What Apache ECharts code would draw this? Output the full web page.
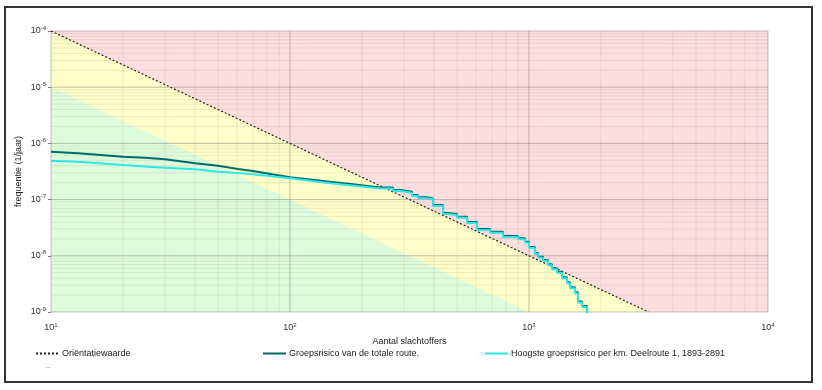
<!DOCTYPE html>
<html>
<head>
<meta charset="utf-8">
<script src="https://cdn.jsdelivr.net/npm/echarts@6/dist/echarts.min.js"></script>
<style>
html,body{margin:0;padding:0;background:#fff;}
#chart{width:822px;height:390px;}
</style>
</head>
<body>
<div id="chart"></div>
<script>
// ---- data ----
const xMajor = [10, 100, 1000, 10000];
const yMajor = [1e-9, 1e-8, 1e-7, 1e-6, 1e-5, 1e-4];
const minorSteps = [2, 3, 4, 5, 6, 7, 8, 9];

// Orientatiewaarde (guide line)
const oriN = [10, 3162];
const oriF = [1e-4, 1e-9];
// boundary of green zone
const greenN = [10, 1000];
const greenF = [1e-5, 1e-9];
// top of red zone
const redN = [10, 10000];
const redF = [1e-4, 1e-4];

// Shared x values (number of victims) for both FN curves
const fnN = [10, 12.97, 20, 24.7, 30, 40.1, 50, 60.6, 70, 84.1, 100, 121, 147, 187, 238, 270, 289, 324, 343, 374, 397, 437, 454, 500, 551, 606, 687, 778, 899, 962, 1000, 1059, 1091, 1145, 1200, 1248, 1310, 1374, 1442, 1485, 1557, 1603, 1667, 1750];
// Groepsrisico van de totale route.
const totF = [7.11e-7, 6.67e-7, 5.8e-7, 5.57e-7, 5.21e-7, 4.42e-7, 4.01e-7, 3.5e-7, 3.23e-7, 2.82e-7, 2.49e-7, 2.28e-7, 2.08e-7, 1.86e-7, 1.64e-7, 1.48e-7, 1.38e-7, 1.21e-7, 1.1e-7, 1.05e-7, 8.02e-8, 5.78e-8, 5.55e-8, 4.97e-8, 3.99e-8, 3.0e-8, 2.69e-8, 2.25e-8, 2.05e-8, 1.78e-8, 1.44e-8, 1.12e-8, 9.64e-9, 8.42e-9, 7.06e-9, 6.0e-9, 5.21e-9, 4.14e-9, 3.37e-9, 2.75e-9, 2.24e-9, 1.53e-9, 1.28e-9, 5e-10];
// Hoogste groepsrisico per km. Deelroute 1, 1893-2891
const highF = [4.92e-7, 4.72e-7, 4.13e-7, 3.88e-7, 3.7e-7, 3.46e-7, 3.13e-7, 2.97e-7, 2.82e-7, 2.6e-7, 2.39e-7, 2.17e-7, 1.95e-7, 1.77e-7, 1.57e-7, 1.42e-7, 1.32e-7, 1.16e-7, 1.06e-7, 1.01e-7, 7.7e-8, 5.55e-8, 5.33e-8, 4.77e-8, 3.83e-8, 2.88e-8, 2.58e-8, 2.16e-8, 1.97e-8, 1.71e-8, 1.38e-8, 1.08e-8, 9.25e-9, 8.08e-9, 6.78e-9, 5.76e-9, 5.0e-9, 3.97e-9, 3.24e-9, 2.64e-9, 2.15e-9, 1.47e-9, 1.23e-9, 5e-10];
// the curves are drawn as stairs from this number of victims on
const stairFrom = 238;

const seriesNames = ['Oriëntatiewaarde', 'Groepsrisico van de totale route.', 'Hoogste groepsrisico per km. Deelroute 1, 1893-2891'];
const xName = 'Aantal slachtoffers';
const yName = 'frequentie (1/jaar)';

// ---- build ----
const zip = (a, b) => a.map((v, i) => [v, b[i]]);
const stairs = (n, f) => {
  const out = [];
  n.forEach((x, i) => {
    if (i > 0 && x > stairFrom) out.push([x, f[i - 1]]);
    out.push([x, f[i]]);
  });
  return out;
};
const xMin = xMajor[0], xMax = xMajor[xMajor.length - 1];
const yMin = yMajor[0], yMax = yMajor[yMajor.length - 1];

// grid line segments, separated by breaks
const minorLines = [], majorLines = [];
const addSeg = (arr, x1, y1, x2, y2) => { arr.push([x1, y1], [x2, y2], [x2, NaN]); };
for (let d = 0; d < xMajor.length - 1; d++) {
  minorSteps.forEach(m => addSeg(minorLines, xMajor[d] * m, yMin, xMajor[d] * m, yMax));
}
for (let d = 0; d < yMajor.length - 1; d++) {
  minorSteps.forEach(m => addSeg(minorLines, xMin, yMajor[d] * m, xMax, yMajor[d] * m));
}
xMajor.forEach(x => addSeg(majorLines, x, yMin, x, yMax));
yMajor.forEach(y => addSeg(majorLines, xMin, y, xMax, y));

const gridSeries = (name, data, color) => ({
  name, type: 'line', silent: true, data, symbol: 'none', clip: false,
  connectNulls: false, z: 3,
  lineStyle: {color, width: 1}
});

const FONT = '"Liberation Sans", Arial, sans-serif';
const expRich = {
  b: {fontSize: 9, color: '#333', fontFamily: FONT},
  s: {fontSize: 6, color: '#333', fontFamily: FONT, verticalAlign: 'top', padding: [0, 0, 6, 0]}
};
const fmt = v => '{b|10}{s|' + Math.round(Math.log10(v)) + '}';

const area = (name, n, f, color) => ({
  name, type: 'line', data: zip(n, f), symbol: 'none', silent: true, z: 1,
  lineStyle: {width: 0, opacity: 0},
  areaStyle: {color, opacity: 1, origin: 'start'}
});

const chart = echarts.init(document.getElementById('chart'), null, {renderer: 'canvas'});
chart.setOption({
  animation: false,
  backgroundColor: '#fff',
  textStyle: {fontFamily: FONT},
  grid: {left: 51, right: 54, top: 31, bottom: 78, containLabel: false},
  xAxis: {
    type: 'log', logBase: 10, min: xMin, max: xMax,
    name: xName, nameLocation: 'middle', nameGap: 23,
    nameTextStyle: {fontSize: 9, color: '#222', fontFamily: FONT},
    axisLine: {show: false}, axisTick: {show: false},
    splitLine: {show: false},
    axisLabel: {formatter: fmt, rich: expRich, margin: 10}
  },
  yAxis: {
    type: 'log', logBase: 10, min: yMin, max: yMax,
    name: yName, nameLocation: 'middle', nameGap: 28, nameRotate: 90,
    nameMoveOverlap: false,
    nameTextStyle: {fontSize: 9, color: '#222', fontFamily: FONT},
    axisLine: {show: false},
    axisTick: {show: true, length: 3, lineStyle: {color: '#777'}},
    splitLine: {show: false},
    axisLabel: {formatter: fmt, rich: expRich, margin: 5}
  },
  legend: [
    {data: [seriesNames[0]], left: 30, top: 344},
    {data: [seriesNames[1]], left: 257, top: 344},
    {data: [seriesNames[2]], left: 479, top: 344}
  ].map(l => Object.assign(l, {
    itemWidth: 23, itemHeight: 10, itemGap: 3,
    itemStyle: {opacity: 0},
    textStyle: {fontSize: 9, color: '#222', fontFamily: FONT, padding: [0, 0, 0, -2]}
  })),
  series: [
    area('red', redN, redF, '#fddede'),
    area('yellow', oriN, oriF, '#fefec9'),
    area('green', greenN, greenF, '#defcdc'),
    gridSeries('minor', minorLines, 'rgba(140,120,90,0.14)'),
    gridSeries('major', majorLines, 'rgba(100,95,90,0.4)'),
    {name: seriesNames[0], type: 'line', data: zip(oriN, oriF), symbol: 'none', z: 5,
     lineStyle: {color: '#222', width: 1.2, type: [2, 2]}, itemStyle: {color: '#222'}},
    {name: seriesNames[1], type: 'line', data: stairs(fnN, totF), symbol: 'none', z: 6,
     lineStyle: {color: '#006b6b', width: 2}, itemStyle: {color: '#006b6b'}},
    {name: seriesNames[2], type: 'line', data: stairs(fnN, highF), symbol: 'none', z: 7,
     lineStyle: {color: '#2ee6e6', width: 2}, itemStyle: {color: '#2ee6e6'}}
  ],
  graphic: [
    {type: 'rect', shape: {x: 5, y: 7, width: 807, height: 375}, style: {fill: 'none', stroke: '#333', lineWidth: 2}, silent: true},
    {type: 'text', left: 46, top: 363, style: {text: '–', fontSize: 8, fill: '#999', fontFamily: FONT}, silent: true}
  ]
});
</script>
</body>
</html>
